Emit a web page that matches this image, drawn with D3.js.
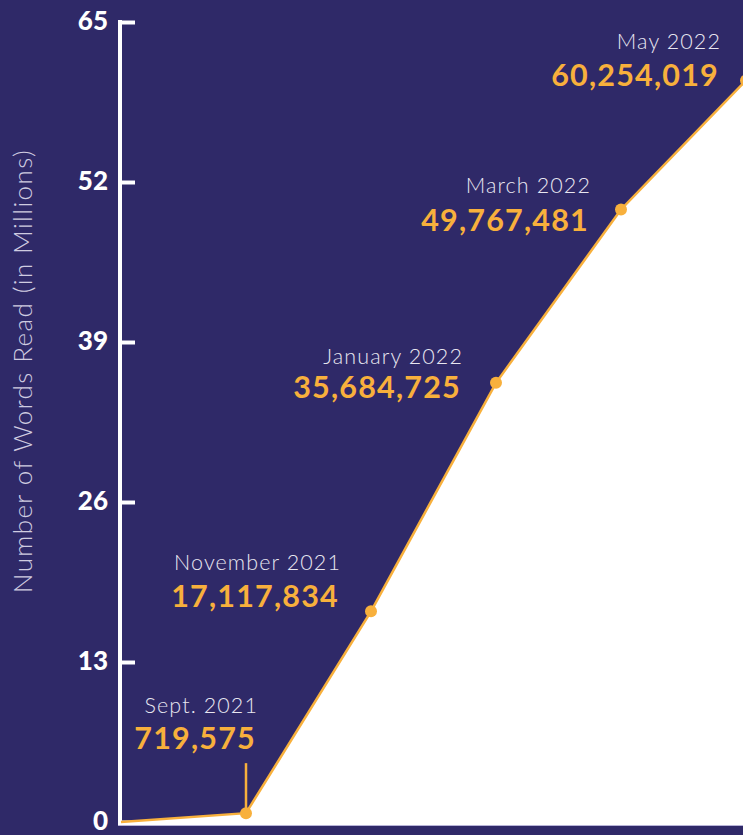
<!DOCTYPE html>
<html>
<head>
<meta charset="utf-8">
<script src="https://cdn.jsdelivr.net/npm/d3@7"></script>
<style>
html,body{margin:0;padding:0;background:#2f2968;}
svg{display:block;}
</style>
</head>
<body>
<svg id="chart" width="743" height="835"></svg>
<script>
// ---- data ----
const monthIndex = [0, 2, 4, 6, 8, 10];           // months since July 2021
const monthLabels = ["", "Sept. 2021", "November 2021", "January 2022", "March 2022", "May 2022"];
const wordsRead = [0, 719575, 17117834, 35684725, 49767481, 60254019];
const yTicks = [0, 13, 26, 39, 52, 65];
const yAxisTitle = "Number of Words Read (in Millions)";

// ---- layout (not data) ----
const W = 743, H = 835;
const BG = "#2f2968", ORANGE = "#f8b03c", LABEL = "#e8e6f0";
// per-label offsets relative to the point: [dx end, month baseline dy, value baseline dy]
const labelLayout = [
  null,
  {dx: 12, my: -100, vy: -64, stem: true},
  {dx: -30, my: -41, vy: -4},
  {dx: -33, my: -19, vy: 15},
  {dx: -30, my: -16, vy: 22},
  {dx: -25, my: -31, vy: 6}
];

const svg = d3.select("#chart");
svg.append("rect").attr("width", W).attr("height", H).attr("fill", BG);

const x = d3.scaleLinear().domain([0, 10]).range([121, 746]);
const y = d3.scaleLinear().domain([0, 65]).range([822, 22]);

const pts = monthIndex.map((m, i) => ({m, v: wordsRead[i] / 1e6, label: monthLabels[i], raw: wordsRead[i], i}));

// white area under the line
const area = d3.area()
  .x(d => x(d.m))
  .y0(y(0) + 3)
  .y1(d => y(d.v));
svg.append("path").datum(pts).attr("d", area).attr("fill", "#ffffff");

// bottom faint line
svg.append("line")
  .attr("x1", x(0) - 3).attr("x2", W)
  .attr("y1", y(0) + 3.5).attr("y2", y(0) + 3.5)
  .attr("stroke", "#b8b4d8").attr("stroke-width", 1);

// y axis
const yAxis = d3.axisRight(y).tickValues(yTicks).tickSize(15).tickFormat("");
const gy = svg.append("g").attr("transform", `translate(${x(0) - 1},0)`).call(yAxis);
gy.select(".domain").attr("d", `M0,${y(65) - 2}V${y(0) + 3}`).attr("stroke", "#fff").attr("stroke-width", 4).attr("fill", "none");
gy.selectAll(".tick line").attr("stroke", "#fff").attr("stroke-width", 4).attr("x1", 0);

// tick labels
svg.append("g").selectAll("text").data(yTicks).join("text")
  .attr("x", 108).attr("y", d => y(d) + 8)
  .attr("text-anchor", "end")
  .attr("fill", "#fff")
  .attr("font-family", "Lato, sans-serif")
  .attr("font-weight", 900)
  .attr("font-size", 26)
  .text(d => d);

// axis title
svg.append("text")
  .attr("transform", `translate(32,${371}) rotate(-90)`)
  .attr("text-anchor", "middle")
  .attr("fill", "#cfcce0")
  .attr("font-family", "Lato, sans-serif")
  .attr("font-weight", 300)
  .attr("font-size", 26)
  .attr("letter-spacing", 1.4)
  .text(yAxisTitle);

// line
const line = d3.line().x(d => x(d.m)).y(d => y(d.v));
svg.append("path").datum(pts).attr("d", line)
  .attr("fill", "none").attr("stroke", ORANGE).attr("stroke-width", 2.5);

// stem for Sept
pts.forEach(d => {
  const L = labelLayout[d.i];
  if (L && L.stem) {
    svg.append("line")
      .attr("x1", x(d.m)).attr("x2", x(d.m))
      .attr("y1", y(d.v) - 50).attr("y2", y(d.v))
      .attr("stroke", ORANGE).attr("stroke-width", 2.5);
  }
});

// points
svg.append("g").selectAll("circle").data(pts.filter(d => d.i > 0)).join("circle")
  .attr("cx", d => x(d.m)).attr("cy", d => y(d.v)).attr("r", 6)
  .attr("fill", ORANGE);

// labels
const fmt = d3.format(",");
const lab = svg.append("g").selectAll("g").data(pts.filter(d => d.i > 0)).join("g");
lab.append("text")
  .attr("x", d => x(d.m) + labelLayout[d.i].dx)
  .attr("y", d => y(d.v) + labelLayout[d.i].my)
  .attr("text-anchor", "end")
  .attr("fill", LABEL)
  .attr("font-family", "Lato, sans-serif")
  .attr("font-weight", 300)
  .attr("font-size", 21.5)
  .attr("letter-spacing", 1.1)
  .text(d => d.label);
lab.append("text")
  .attr("x", d => x(d.m) + labelLayout[d.i].dx - 2)
  .attr("y", d => y(d.v) + labelLayout[d.i].vy)
  .attr("text-anchor", "end")
  .attr("fill", ORANGE)
  .attr("font-family", "Lato, sans-serif")
  .attr("font-weight", 700)
  .attr("font-size", 30.5)
  .attr("letter-spacing", 1.2)
  .text(d => fmt(d.raw));
</script>
</body>
</html>
